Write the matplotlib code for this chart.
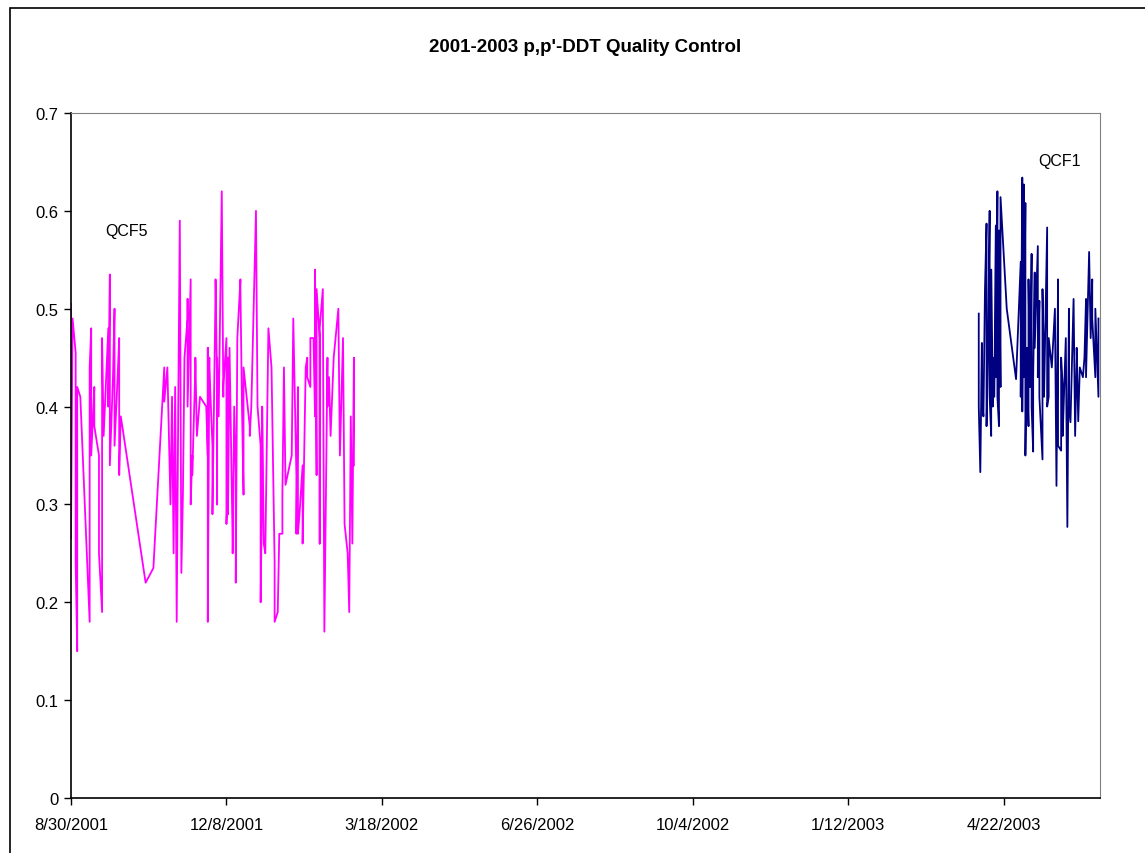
import datetime as dt
import matplotlib
matplotlib.use("Agg")
import matplotlib.pyplot as plt
import matplotlib.dates as mdates
from matplotlib.patches import Rectangle
from matplotlib.ticker import FuncFormatter, MultipleLocator

plt.rcParams['font.family'] = ['Liberation Sans', 'DejaVu Sans']

# --- data: days after 8/30/2001 and measured value ---
start = dt.date(2001, 8, 30)

qcf5_day = [0, 0, 1, 3, 3, 4, 4, 6, 12, 12, 13, 13, 15, 15, 18, 18, 20, 20, 21,
            24, 24, 25, 25, 27, 28, 28, 30, 31, 31, 32, 33, 48, 53, 60, 60, 62,
            64, 65, 66, 67, 68, 69, 70, 71, 72, 73, 75, 75, 75, 77, 77, 78, 78,
            80, 80, 81, 83, 87, 88, 88, 88, 89, 89, 91, 91, 93, 93, 94, 94, 94,
            95, 97, 98, 98, 100, 100, 101, 101, 101, 102, 104, 104, 105, 106,
            106, 107, 107, 109, 109, 110, 111, 111, 115, 115, 116, 119, 120,
            122, 122, 123, 123, 124, 125, 127, 129, 131, 131, 133, 134, 136,
            136, 137, 138, 142, 143, 145, 145, 146, 146, 147, 149, 149, 151,
            152, 152, 154, 154, 156, 157, 157, 158, 158, 160, 160, 160, 162,
            163, 165, 165, 166, 167, 169, 172, 173, 175, 176, 178, 179, 180,
            181, 182, 182]
qcf5_val = [0.505, 0.265, 0.49, 0.455, 0.24, 0.15, 0.42, 0.41, 0.18, 0.44, 0.48,
            0.35, 0.42, 0.38, 0.35, 0.25, 0.19, 0.47, 0.37, 0.48, 0.40, 0.535,
            0.34, 0.43, 0.50, 0.36, 0.43, 0.47, 0.33, 0.39, 0.38, 0.22, 0.235,
            0.44, 0.405, 0.44, 0.30, 0.41, 0.25, 0.42, 0.18, 0.40, 0.59, 0.23,
            0.31, 0.45, 0.49, 0.51, 0.40, 0.53, 0.30, 0.35, 0.33, 0.44, 0.45,
            0.37, 0.41, 0.40, 0.35, 0.46, 0.18, 0.45, 0.44, 0.36, 0.29, 0.52,
            0.53, 0.42, 0.30, 0.45, 0.39, 0.62, 0.41, 0.42, 0.47, 0.28, 0.32,
            0.45, 0.29, 0.46, 0.26, 0.25, 0.40, 0.33, 0.22, 0.46, 0.47, 0.53,
            0.52, 0.40, 0.31, 0.44, 0.38, 0.37, 0.40, 0.60, 0.40, 0.36, 0.20,
            0.33, 0.40, 0.26, 0.25, 0.48, 0.44, 0.24, 0.18, 0.19, 0.27, 0.27,
            0.31, 0.44, 0.32, 0.35, 0.49, 0.33, 0.27, 0.42, 0.27, 0.29, 0.34,
            0.26, 0.44, 0.45, 0.43, 0.42, 0.47, 0.47, 0.39, 0.54, 0.33, 0.52,
            0.47, 0.26, 0.48, 0.52, 0.17, 0.45, 0.40, 0.43, 0.37, 0.45, 0.50,
            0.35, 0.47, 0.28, 0.25, 0.19, 0.39, 0.26, 0.45, 0.34]

qcf1_day = [584, 584, 585, 586, 586, 587, 588, 589, 589, 590, 591, 591, 592,
            592, 593, 593, 594, 595, 595, 596, 596, 597, 597, 598, 598, 602,
            608, 611, 611, 612, 612, 613, 613, 614, 614, 615, 615, 616, 616,
            617, 618, 618, 619, 619, 620, 620, 622, 622, 623, 623, 625, 625,
            626, 626, 628, 628, 629, 629, 631, 633, 634, 635, 635, 637, 637,
            638, 638, 640, 641, 642, 642, 643, 645, 646, 647, 647, 648, 649,
            651, 652, 653, 653, 655, 656, 657, 657, 659, 659, 661, 661]
qcf1_val = [0.495, 0.40, 0.333, 0.465, 0.41, 0.39, 0.52, 0.587, 0.38, 0.46,
            0.60, 0.41, 0.37, 0.54, 0.40, 0.45, 0.41, 0.585, 0.43, 0.62, 0.41,
            0.38, 0.58, 0.42, 0.614, 0.50, 0.428, 0.548, 0.41, 0.634, 0.395,
            0.627, 0.43, 0.608, 0.35, 0.46, 0.44, 0.38, 0.53, 0.42, 0.556,
            0.40, 0.354, 0.43, 0.537, 0.46, 0.564, 0.43, 0.508, 0.41, 0.346,
            0.52, 0.44, 0.41, 0.583, 0.40, 0.41, 0.47, 0.44, 0.50, 0.319, 0.53,
            0.36, 0.355, 0.45, 0.42, 0.37, 0.47, 0.277, 0.50, 0.40, 0.384, 0.51,
            0.37, 0.45, 0.46, 0.385, 0.44, 0.43, 0.45, 0.51, 0.43, 0.558, 0.47,
            0.53, 0.49, 0.43, 0.50, 0.41, 0.49]

title = "2001-2003 p,p'-DDT Quality Control"


def to_dates(days):
    return [start + dt.timedelta(days=d) for d in days]


fig = plt.figure(figsize=(11.45, 8.54), dpi=100)
ax = fig.add_axes([71 / 1145, 1 - 799 / 854, (1100 - 71) / 1145, (799 - 114) / 854])

ax.plot(to_dates(qcf5_day), qcf5_val, color='#FF00FF', lw=1.3)
ax.plot(to_dates(qcf1_day), qcf1_val, color='#000080', lw=1.3)

x0 = mdates.date2num(start)
ax.set_xlim(x0, x0 + 662)
ax.set_ylim(0, 0.7)
ax.set_xticks([x0 + 100 * i for i in range(7)])
ax.xaxis.set_major_formatter(FuncFormatter(
    lambda v, p: (lambda d: f"{d.month}/{d.day}/{d.year}")(mdates.num2date(v))))
ax.yaxis.set_major_locator(MultipleLocator(0.1))
ax.yaxis.set_major_formatter(FuncFormatter(lambda v, p: f"{v:g}"))
ax.tick_params(axis='both', labelsize=12, direction='out', length=5, width=1)
ax.tick_params(axis='x', pad=9)
ax.tick_params(axis='y', pad=4)

for s in ('top', 'right'):
    ax.spines[s].set_color('#808080')
for s in ('left', 'bottom'):
    ax.spines[s].set_color('black')
    ax.spines[s].set_linewidth(1.2)

ax.text(x0 + 36, 0.58, 'QCF5', fontsize=11.5, ha='center', va='center')
ax.text(x0 + 636, 0.651, 'QCF1', fontsize=11.5, ha='center', va='center')

fig.text(585 / 1145, 1 - 48 / 854, title, fontsize=13.5, fontweight='bold',
         ha='center', va='center')

# outer chart border (runs off the right and bottom edges)
fig.patches.append(Rectangle((10 / 1145, -0.1), 1.2, 1.1 - 9 / 854,
                             transform=fig.transFigure, fill=False,
                             edgecolor='black', lw=1.2))

fig.savefig('out.png', dpi=100)
